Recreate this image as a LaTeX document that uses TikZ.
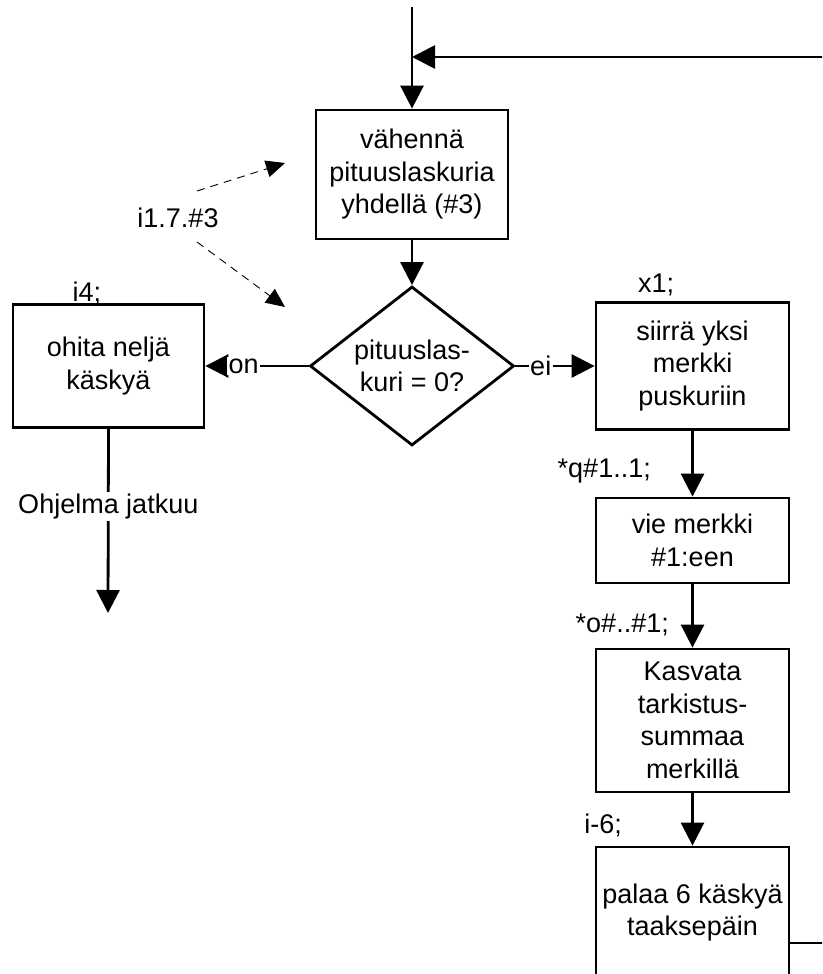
\documentclass[tikz,border=0pt]{standalone}
\usepackage{fontspec}
\setmainfont{Liberation Sans}
\usetikzlibrary{arrows.meta,shapes.geometric}
\begin{document}
\begin{tikzpicture}[x=1pt,y=-1pt,
  every node/.style={font=\fontsize{27}{32.5}\selectfont},
  box/.style={draw, line width=2.8pt, align=center, inner sep=0pt},
  flow/.style={line width=2.8pt, -{Triangle[length=23pt,width=23pt]}},
  plain/.style={line width=2.8pt},
  hint/.style={line width=0.9pt, dash pattern=on 8pt off 6pt, -{Triangle[length=19pt,width=17pt]}},
  lbl/.style={fill=white, inner sep=1.5pt},
  tag/.style={inner sep=0pt}]
\useasboundingbox (0,0) rectangle (822,974);
\clip (0,0) rectangle (822,974);

% nodes
\node[box, minimum width=192pt, minimum height=129pt] (b1) at (412,174.5)
  {vähennä\\pituuslaskuria\\yhdellä (\#3)};
\node[diamond, draw, line width=2.8pt, inner sep=0pt, minimum width=204pt, minimum height=159pt] (dia) at (412,366) {};
\node[align=center, inner sep=0pt] (diat) at (dia.center) {pituuslas-\\kuri = 0?};
\node[box, minimum width=191pt, minimum height=123pt] (lb) at (108.5,366)
  {ohita neljä\\käskyä};
\node[box, minimum width=193pt, minimum height=127pt] (r1) at (692.5,366)
  {siirrä yksi\\merkki\\puskuriin};
\node[box, minimum width=193pt, minimum height=85pt] (r2) at (692.5,540.5)
  {vie merkki\\\#1:een};
\node[box, minimum width=193pt, minimum height=143pt] (r3) at (692.5,720.5)
  {Kasvata\\tarkistus-\\summaa\\merkillä};
\node[box, minimum width=193pt, minimum height=131pt] (r4) at (692.5,912.5)
  {palaa 6 käskyä\\taaksepäin};

% labels
\node[tag, anchor=base] (tx1) at (656,292) {x1;};
\node[tag, anchor=base] (ti4) at (87,301) {i4;};
\node[tag, anchor=base east] (tq) at (651,477) {*q\#1..1;};
\node[tag, anchor=base east] (to) at (669,632) {*o\#..\#1;};
\node[tag, anchor=base east] (ti6) at (622,833) {i-6;};
\node[tag, anchor=base] (ti17) at (178,227) {i1.7.\#3};

% coordinates
\coordinate (top) at (412,7);
\coordinate (j) at (412,57);
\coordinate (fbT) at (830,57);
\coordinate (fbB) at (830,943);
\coordinate (oj) at (108,613);
\coordinate (d1s) at (197,191);
\coordinate (d1e) at (285,163);
\coordinate (d2s) at (197,242);
\coordinate (d2e) at (285,307);

% connectors
\draw[flow] (top) -- (b1.north);
\draw[flow] (fbT) -- (j);
\draw[flow] (b1.south) -- (dia.north);
\draw[flow] (dia.west) -- (lb.east) node[lbl, pos=0.63] {on};
\draw[flow] (dia.east) -- (r1.west) node[lbl, pos=0.32] {ei};
\draw[flow] (lb.south) -- (oj) node[lbl, inner sep=2pt, pos=0.42] {Ohjelma jatkuu};
\draw[flow] (r1.south) -- (r2.north);
\draw[flow] (r2.south) -- (r3.north);
\draw[flow] (r3.south) -- (r4.north);
\draw[plain] (r4.east |- fbB) -- (fbB);
\draw[hint] (d1s) -- (d1e);
\draw[hint] (d2s) -- (d2e);
\end{tikzpicture}
\end{document}
